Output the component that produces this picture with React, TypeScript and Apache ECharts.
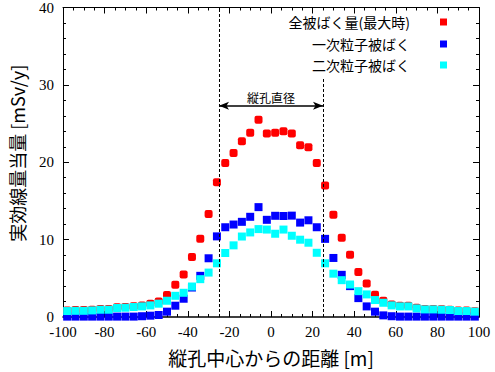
import React, { useEffect, useRef } from "react";
import * as echarts from "echarts";

const positions = [
  -98, -94, -90, -86, -82, -78, -74, -70, -66, -62, -58, -54, -50, -46, -42, -38, -34, -30, -26, -22, -18, -14, -10, -6, -2,
  2, 6, 10, 14, 18, 22, 26, 30, 34, 38, 42, 46, 50, 54, 58, 62, 66, 70, 74, 78, 82, 86, 90, 94, 98,
];

const totalDose = [
  0.85, 0.9, 0.9, 0.95, 1.05, 1.05, 1.25, 1.3, 1.4, 1.5, 1.7, 2.0, 2.83, 4.16, 5.49, 7.76, 10.1, 13.3, 17.4, 19.9, 21.2, 22.7, 23.8, 25.5, 23.7,
  23.8, 24.0, 23.7, 22.2, 21.95, 19.9, 17.0, 13.2, 10.25, 8.06, 5.83, 4.33, 2.87, 2.1, 1.6, 1.45, 1.45, 1.2, 1.05, 1.05, 1.0, 0.95, 0.85, 0.85, 0.75,
];

const primaryDose = [
  0.05, 0.05, 0.05, 0.05, 0.05, 0.05, 0.05, 0.05, 0.05, 0.1, 0.17, 0.26, 0.69, 1.46, 2.36, 3.81, 5.32, 7.59, 10.42, 11.6, 11.95, 12.3, 12.95, 14.2, 12.56,
  13.08, 13.05, 13.1, 12.2, 12.5, 11.6, 10.1, 7.63, 5.45, 3.99, 2.44, 1.37, 0.69, 0.21, 0.1, 0.05, 0.05, 0.05, 0.05, 0.05, 0.05, 0.05, 0.05, 0.05, 0.05,
];

const secondaryDose = [
  0.77, 0.8, 0.8, 0.85, 0.94, 0.94, 1.16, 1.2, 1.29, 1.37, 1.5, 1.72, 2.1, 2.74, 3.13, 3.94, 4.89, 5.74, 6.94, 8.27, 9.26, 10.4, 10.93, 11.36, 11.3,
  10.76, 11.3, 10.5, 9.99, 9.6, 8.3, 6.94, 5.6, 4.76, 4.2, 3.34, 2.92, 2.19, 1.84, 1.5, 1.37, 1.37, 1.11, 0.98, 0.98, 0.94, 0.9, 0.77, 0.77, 0.69,
];

const seriesNames = ["全被ばく量(最大時)", "一次粒子被ばく", "二次粒子被ばく"];
const seriesColors = ["#ff0000", "#0000ff", "#00ffff"];
const holeEdges = [-25, 25];
const holeLabel = "縦孔直径";
const arrowLevel = 27.3;
const rightLineTop = 31;
const xTitle = "縦孔中心からの距離 [m]";
const yTitle = "実効線量当量 [mSv/y]";

const serif = "Liberation Serif, Times New Roman, serif";
const sans = "Noto Sans CJK JP";

function zip(vals: number[]) {
  return positions.map((x, i) => [x, vals[i]]);
}

export default function App() {
  const ref = useRef<HTMLDivElement>(null);
  useEffect(() => {
    if (!ref.current) return;
    const chart = echarts.init(ref.current, undefined, { renderer: "svg" });
    const axisCommon = {
      axisLine: { show: true, onZero: false, lineStyle: { color: "#000", width: 1 } },
      axisTick: { show: true, inside: true, length: 6, lineStyle: { color: "#000", width: 1 } },
      minorTick: { show: true, length: 3, lineStyle: { color: "#000", width: 1 } },
      splitLine: { show: false },
    };
    const legendCommon = {
      orient: "vertical",
      align: "right",
      right: 48,
      padding: 0,
      itemWidth: 7,
      itemHeight: 7,
      icon: "rect",
      textStyle: { fontFamily: sans, fontSize: 14, color: "#000", lineHeight: 14, padding: [0, 25, 0, 0] },
    };
    chart.setOption({
      animation: false,
      backgroundColor: "#fff",
      textStyle: { fontFamily: serif, color: "#000" },
      grid: { left: 62, right: 16, top: 7, bottom: 54, containLabel: false },
      legend: [
        { ...legendCommon, top: 15, data: [seriesNames[0]] },
        { ...legendCommon, top: 37, data: [seriesNames[1]] },
        { ...legendCommon, top: 58, data: [seriesNames[2]] },
      ],
      xAxis: [
        {
          ...axisCommon,
          type: "value",
          min: -100,
          max: 100,
          interval: 20,
          minorTick: { ...axisCommon.minorTick, splitNumber: 4 },
          axisLine: { ...axisCommon.axisLine, lineStyle: { color: "#000", width: 1.5 } },
          axisLabel: { fontFamily: serif, fontSize: 15, color: "#000", margin: 8 },
          name: xTitle,
          nameLocation: "middle",
          nameGap: 31,
          nameTextStyle: { fontFamily: sans, fontSize: 19, color: "#000" },
        },
        {
          ...axisCommon,
          type: "value",
          position: "top",
          min: -100,
          max: 100,
          interval: 20,
          minorTick: { ...axisCommon.minorTick, splitNumber: 4 },
          axisLabel: { show: false },
        },
      ],
      yAxis: [
        {
          ...axisCommon,
          type: "value",
          min: 0,
          max: 40,
          interval: 10,
          minorTick: { ...axisCommon.minorTick, splitNumber: 5 },
          axisLabel: { fontFamily: serif, fontSize: 15, color: "#000", margin: 9 },
          name: yTitle,
          nameLocation: "middle",
          nameGap: 37,
          nameTextStyle: { fontFamily: sans, fontSize: 18, color: "#000", padding: [0, 0, 0, 18] },
        },
        {
          ...axisCommon,
          type: "value",
          position: "right",
          min: 0,
          max: 40,
          interval: 10,
          minorTick: { ...axisCommon.minorTick, splitNumber: 5 },
          axisLabel: { show: false },
        },
      ],
      series: [
        {
          name: seriesNames[0],
          type: "scatter",
          symbol: "roundRect",
          symbolSize: 8,
          itemStyle: { color: seriesColors[0], opacity: 1 },
          data: zip(totalDose),
          markLine: {
            silent: true,
            symbol: "none",
            label: { show: false },
            lineStyle: { color: "#000", width: 1, type: [3, 2] },
            data: [
              [{ coord: [holeEdges[0], 0] }, { coord: [holeEdges[0], 40] }],
              [{ coord: [holeEdges[1], 0] }, { coord: [holeEdges[1], rightLineTop] }],
            ],
          },
        },
        {
          name: seriesNames[1],
          type: "scatter",
          symbol: "rect",
          symbolSize: 8,
          itemStyle: { color: seriesColors[1], opacity: 1 },
          data: zip(primaryDose),
          markLine: {
            silent: true,
            symbol: ["arrow", "arrow"],
            symbolSize: [6, 10],
            lineStyle: { color: "#000", width: 1.5, type: "solid" },
            label: {
              show: true,
              formatter: holeLabel,
              position: "insideMiddleTop",
              distance: 2,
              fontFamily: sans,
              fontSize: 12,
              color: "#000",
            },
            data: [[{ coord: [holeEdges[0], arrowLevel] }, { coord: [holeEdges[1], arrowLevel] }]],
          },
        },
        {
          name: seriesNames[2],
          type: "scatter",
          symbol: "rect",
          symbolSize: 8,
          itemStyle: { color: seriesColors[2], opacity: 1 },
          data: zip(secondaryDose),
        },
      ],
    });
    return () => chart.dispose();
  }, []);
  return <div ref={ref} style={{ position: "fixed", left: 0, top: 0, width: 495, height: 372 }} />;
}
